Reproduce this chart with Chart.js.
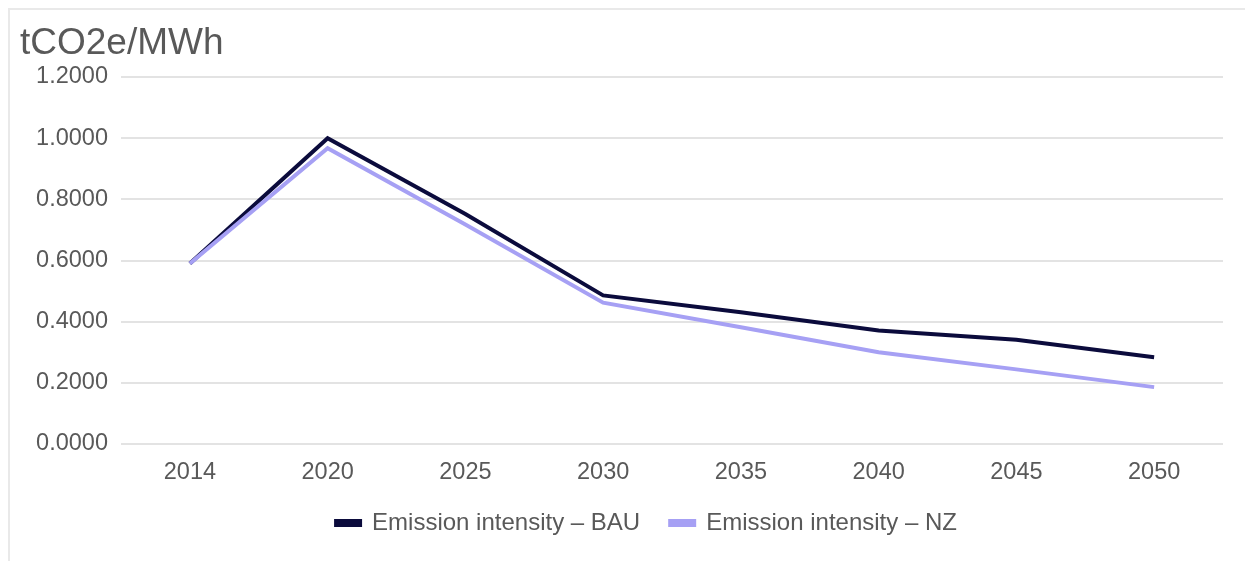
<!DOCTYPE html>
<html>
<head>
<meta charset="utf-8">
<script src="https://cdn.jsdelivr.net/npm/chart.js@4.4.1/dist/chart.umd.min.js"></script>
<style>
  html, body { margin: 0; padding: 0; background: #ffffff; }
  #wrap { position: relative; width: 1245px; height: 561px; overflow: hidden; }
  #frame {
    position: absolute; left: 8px; top: 8px; right: -10px; bottom: -10px;
    border-left: 2px solid #e9e9e9; border-top: 2px solid #e9e9e9;
    pointer-events: none;
  }
</style>
</head>
<body>
<div id="wrap">
  <canvas id="chart" width="1245" height="561"></canvas>
  <div id="frame"></div>
</div>
<script>
// Grid emission intensity, tCO2e per MWh
const years = ['2014', '2020', '2025', '2030', '2035', '2040', '2045', '2050'];
const bauIntensity = [0.590, 1.000, 0.752, 0.486, 0.431, 0.371, 0.341, 0.284];
const nzIntensity  = [0.590, 0.967, 0.718, 0.462, 0.382, 0.300, 0.244, 0.186];
const seriesNames = ['Emission intensity – BAU', 'Emission intensity – NZ'];
const unitLabel = 'tCO2e/MWh';

const FONT = "'Liberation Sans', Arial, sans-serif";
const GREY = '#595959';

// nudges the centred legend row a little to the right
const legendShift = {
  id: 'legendShift',
  afterLayout(chart) {
    const lg = chart.legend;
    if (lg) { lg.left += 25; lg.right += 25; }
  }
};

new Chart(document.getElementById('chart'), {
  type: 'line',
  data: {
    labels: years,
    datasets: [
      {
        label: seriesNames[0],
        data: bauIntensity,
        borderColor: '#0b0b3c',
        backgroundColor: '#0b0b3c',
        borderWidth: 4,
        pointRadius: 0,
        tension: 0,
        borderJoinStyle: 'miter',
        order: 2
      },
      {
        label: seriesNames[1],
        data: nzIntensity,
        borderColor: '#a6a0f4',
        backgroundColor: '#a6a0f4',
        borderWidth: 4,
        pointRadius: 0,
        tension: 0,
        borderJoinStyle: 'miter',
        order: 1
      }
    ]
  },
  options: {
    responsive: false,
    devicePixelRatio: 1,
    animation: false,
    layout: { padding: { top: 25, left: 20, right: 22, bottom: 16 } },
    plugins: {
      title: {
        display: true,
        text: unitLabel,
        align: 'start',
        color: GREY,
        font: { family: FONT, size: 37, weight: 'normal', lineHeight: 1 },
        padding: { top: 0, bottom: 15 }
      },
      legend: {
        position: 'bottom',
        labels: {
          color: GREY,
          font: { family: FONT, size: 24 },
          boxWidth: 24,
          boxHeight: 4,
          padding: 30,
          sort: (a, b) => a.datasetIndex - b.datasetIndex
        }
      },
      tooltip: { enabled: false }
    },
    scales: {
      x: {
        offset: true,
        grid: { display: false, drawTicks: false },
        border: { display: false },
        ticks: { color: GREY, font: { family: FONT, size: 23.5 }, padding: 14.5, maxRotation: 0 },
        afterFit(scale) { scale.height = 37; }
      },
      y: {
        min: 0,
        max: 1.2,
        grid: { color: '#e3e3e3', lineWidth: 2, drawTicks: false },
        border: { display: false },
        ticks: {
          stepSize: 0.2,
          color: GREY,
          font: { family: FONT, size: 23.5 },
          padding: 13,
          callback: v => Number(v).toFixed(4)
        },
        afterFit(scale) { scale.width = 101; }
      }
    }
  },
  plugins: [legendShift]
});
</script>
</body>
</html>
